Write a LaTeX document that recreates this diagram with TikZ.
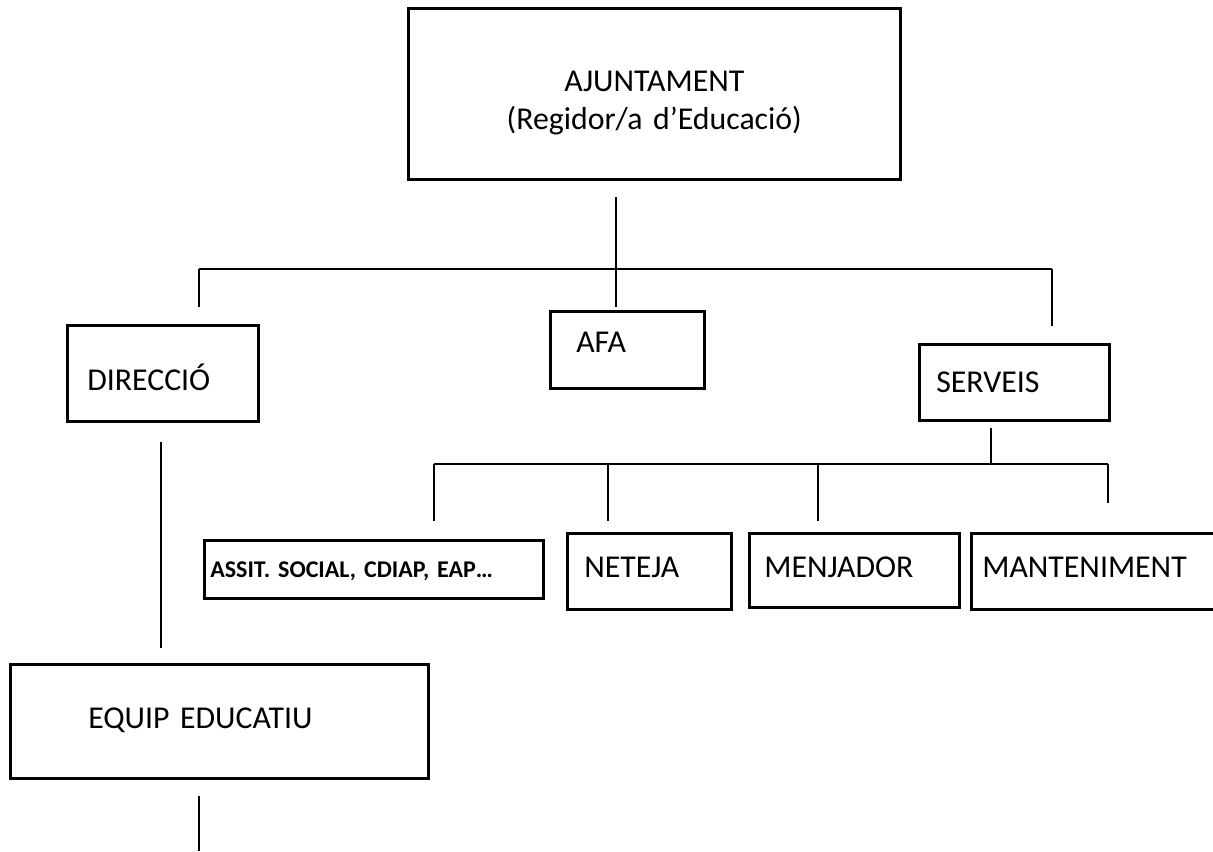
\documentclass[tikz,border=0pt]{standalone}
\usepackage{fontspec}
\setmainfont{Carlito}
\usepackage{tikz}
\frenchspacing
\tikzstyle{box} = [rectangle, draw, line width=1.3pt, anchor=north west, align=left, inner sep=0pt, font=\fontsize{15.9}{19}\selectfont, text height=10pt, text depth=0pt]
\tikzstyle{line} = [draw, line width=1.2pt]
\tikzstyle{subline} = [draw, line width=0.9pt]

\begin{document}
\begin{tikzpicture}[x=0.5pt, y=-0.5pt]
			\useasboundingbox (0, 0) rectangle (1213, 851);
			\clip (0, 0) rectangle (1213, 851);

			\node [box, align=center, minimum width=246pt, minimum height=85.5pt, text width=240pt, text height=17pt, text depth=19pt] (ajunt) at (407, 7) {AJUNTAMENT\\(Regidor/a d’Educació)};
			\node [box, minimum width=95.5pt, minimum height=48pt, text width=75.5pt, text height=17pt] (direccio) at (66, 324) {DIRECCIÓ};
			\node [box, minimum width=77pt, minimum height=38.5pt, text width=51pt, text depth=7.5pt] (afa) at (549, 310) {AFA};
			\node [box, minimum width=95pt, minimum height=38pt, text width=78pt] (serveis) at (918, 343) {SERVEIS};
			\node [box, minimum width=169.5pt, minimum height=29pt, text width=163.5pt, font=\fontsize{12}{14}\selectfont\bfseries, text height=7.7pt] (assist) at (203, 539) {ASSIT. SOCIAL, CDIAP, EAP…};
			\node [box, minimum width=82pt, minimum height=38pt, text width=65pt, text depth=4pt] (neteja) at (566, 532) {NETEJA};
			\node [box, minimum width=105pt, minimum height=37pt, text width=90pt, text depth=3pt] (menjador) at (748, 532) {MENJADOR};
			\node [box, minimum width=125pt, minimum height=38pt, text width=114pt, text depth=4pt] (manten) at (970, 532) {MANTENIMENT};
			\node [box, minimum width=209pt, minimum height=57pt, text width=131pt, text depth=3pt] (equip) at (9, 663) {EQUIP EDUCATIU};

			\coordinate (ajunt-down) at (616, 197);
			\coordinate (afa-up) at (616, 307);
			\coordinate (bus-left) at (199, 269);
			\coordinate (bus-right) at (1052, 269);
			\coordinate (direccio-up) at (199, 307);
			\coordinate (serveis-up) at (1052, 326);
			\coordinate (direccio-down) at (161, 442);
			\coordinate (equip-up) at (161, 648);
			\coordinate (equip-down) at (199, 796);
			\coordinate (equip-end) at (199, 851);

			\coordinate (serveis-down) at (991, 428);
			\coordinate (sbus) at (991, 464);
			\coordinate (sbus-left) at (434, 464);
			\coordinate (sbus-right) at (1108, 464);
			\coordinate (assist-up) at (434, 521);
			\coordinate (neteja-top) at (608, 464);
			\coordinate (neteja-up) at (608, 521);
			\coordinate (menjador-top) at (818, 464);
			\coordinate (menjador-up) at (818, 521);
			\coordinate (manten-up) at (1108, 503);

			\path [line] (ajunt-down) -- (afa-up);
			\path [line] (bus-left) -- (bus-right);
			\path [line] (bus-left) -- (direccio-up);
			\path [line] (bus-right) -- (serveis-up);
			\path [line] (direccio-down) -- (equip-up);
			\path [line] (equip-down) -- (equip-end);

			\path [subline] (serveis-down) -- (sbus);
			\path [subline] (sbus-left) -- (sbus-right);
			\path [subline] (sbus-left) -- (assist-up);
			\path [subline] (neteja-top) -- (neteja-up);
			\path [subline] (menjador-top) -- (menjador-up);
			\path [subline] (sbus-right) -- (manten-up);
		\end{tikzpicture}
\end{document}
